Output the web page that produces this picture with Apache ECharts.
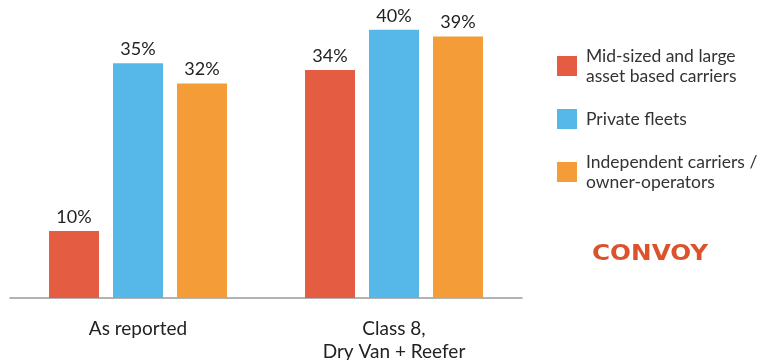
<!DOCTYPE html>
<html lang="en">
<head>
    <meta charset="UTF-8">
    <script src="https://cdn.jsdelivr.net/npm/echarts@6/dist/echarts.min.js"></script>
    <style>
        * { margin: 0; padding: 0; }
        body { background: #fff; }
        #chart { width: 769px; height: 360px; }
    </style>
</head>
<body>
<div id="chart"></div>
<script>
    // data
    const categories = ['As reported', 'Class 8,\nDry Van + Reefer'];
    const seriesNames = ['Mid-sized and large\nasset based carriers', 'Private fleets', 'Independent carriers /\nowner-operators'];
    const midLarge = [10, 34];
    const privateFleets = [35, 40];
    const independent = [32, 39];
    const colors = ['#E45D42', '#55B8E8', '#F49C37'];

    const font = 'Lato, "Open Sans", sans-serif';
    const valueSets = [midLarge, privateFleets, independent];

    const myChart = echarts.init(document.getElementById('chart'));

    const option = {
        animation: false,
        textStyle: {fontFamily: font},
        grid: {left: 10, right: 247, top: 3, bottom: 62, outerBoundsMode: 'none', containLabel: false},
        legend: {
            orient: 'vertical',
            left: 557,
            top: 46,
            padding: 0,
            itemWidth: 20,
            itemHeight: 20,
            itemGap: 23,
            icon: 'rect',
            textStyle: {fontSize: 17.5, color: '#333', lineHeight: 20, fontFamily: font, padding: [0, 0, 0, 4]},
            data: seriesNames
        },
        xAxis: {
            type: 'category',
            data: categories,
            offset: 5,
            axisLine: {lineStyle: {color: '#9a9a9a', width: 1.5}},
            axisTick: {show: false},
            axisLabel: {fontSize: 19, color: '#222', lineHeight: 23, margin: 14, verticalAlign: 'top', fontFamily: font}
        },
        yAxis: {
            type: 'value',
            min: 0,
            max: 44,
            show: false,
            splitLine: {show: false}
        },
        series: seriesNames.map((name, i) => ({
            name,
            type: 'bar',
            barWidth: 50,
            barGap: '28%',
            itemStyle: {color: colors[i]},
            label: {
                show: true,
                position: 'top',
                distance: 5,
                fontSize: 18,
                color: '#222',
                fontFamily: font,
                formatter: p => p.value + '%'
            },
            data: valueSets[i]
        })),
        graphic: [{
            type: 'text',
            left: 592,
            top: 243,
            scaleX: 1.12,
            style: {
                text: 'CONVOY',
                fontSize: 22,
                fontWeight: 'bold',
                fontFamily: '"DejaVu Sans", sans-serif',
                fill: '#DB532D'
            }
        }]
    };

    myChart.setOption(option);
</script>
</body>
</html>
